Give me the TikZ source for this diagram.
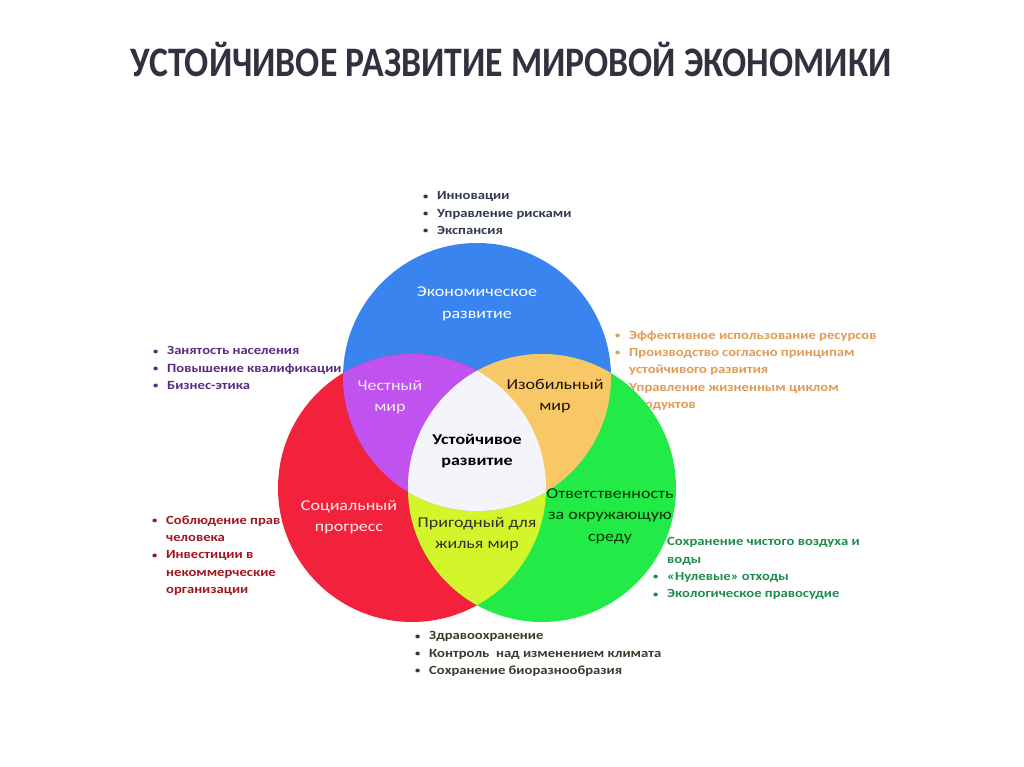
\documentclass[tikz,border=0pt]{standalone}
\usepackage{fontspec}
\setmainfont{Carlito}
\newfontfamily\zagfont[FakeStretch=0.85]{Carlito}
\newfontfamily\spisokfont[FakeStretch=1.17]{Carlito}
\newfontfamily\metkafont[FakeStretch=1.2]{Carlito}
\definecolor{sinij}{HTML}{3A84F0}
\definecolor{krasnyj}{HTML}{F2213C}
\definecolor{zelenyj}{HTML}{22EB48}
\definecolor{fiolet}{HTML}{C052F0}
\definecolor{oranzh}{HTML}{F9C866}
\definecolor{salat}{HTML}{D2F52C}
\definecolor{belyj}{HTML}{F4F5FA}
\definecolor{zagcvet}{HTML}{33303F}
\definecolor{tekst_eko}{HTML}{2F3A52}
\definecolor{tekst_soc}{HTML}{5B2C83}
\definecolor{tekst_res}{HTML}{E39A55}
\definecolor{tekst_prava}{HTML}{A31620}
\definecolor{tekst_vozduh}{HTML}{1E8C4C}
\definecolor{tekst_zdorov}{HTML}{3B3A2C}
\newcommand{\punkt}{\makebox[14pt][l]{\raisebox{0.8pt}{\fontsize{9}{9}\selectfont•}}}
\newcommand{\otstup}{\hspace*{14pt}}
\begin{document}
\begin{tikzpicture}[x=1pt, y=-1pt,
    spisok/.style={anchor=north west, inner sep=0pt, align=left,
      font=\spisokfont\bfseries\fontsize{12.5}{17.3}\selectfont},
    metka/.style={align=center, inner sep=0pt,
      font=\metkafont\fontsize{15}{21.5}\selectfont}]

    \useasboundingbox[fill=white] (0,0) rectangle (1024,767);

    % ZAGOLOVOK
    \node[text=zagcvet, font=\zagfont\bfseries\fontsize{42}{50}\selectfont] (zagolovok) at (511,59) {УСТОЙЧИВОЕ РАЗВИТИЕ МИРОВОЙ ЭКОНОМИКИ};

    % SPISKI (pod krugami)
    \node[spisok, text=tekst_eko] (spisok_eko) at (423,191.5) {\punkt Инновации\\ \punkt Управление рисками\\ \punkt Экспансия};
    \node[spisok, text=tekst_soc] (spisok_soc) at (153,346.5) {\punkt Занятость населения\\ \punkt Повышение квалификации\\ \punkt Бизнес-этика};
    \node[spisok, text=tekst_res] (spisok_res) at (615,330.5) {\punkt Эффективное использование ресурсов\\ \punkt Производство согласно принципам\\ \otstup устойчивого развития\\ \punkt Управление жизненным циклом\\ \otstup продуктов};
    \node[spisok, text=tekst_prava] (spisok_prava) at (152,515.5) {\punkt Соблюдение прав\\ \otstup человека\\ \punkt Инвестиции в\\ \otstup некоммерческие\\ \otstup организации};
    \node[spisok, text=tekst_vozduh] (spisok_vozduh) at (653,537.5) {\punkt Сохранение чистого воздуха и\\ \otstup воды\\ \punkt «Нулевые» отходы\\ \punkt Экологическое правосудие};
    \node[spisok, text=tekst_zdorov] (spisok_zdorov) at (415,631.5) {\punkt Здравоохранение\\ \punkt Контроль~ над изменением климата\\ \punkt Сохранение биоразнообразия};

    % KRUGI
    \coordinate (eko) at (477,377);
    \coordinate (soc) at (412,488);
    \coordinate (ekol) at (542,488);
    \fill[sinij] (eko) circle (134);
    \fill[krasnyj] (soc) circle (134);
    \fill[zelenyj] (ekol) circle (134);
    \begin{scope}
        \clip (soc) circle (134);
        \fill[salat] (ekol) circle (134);
    \end{scope}
    \begin{scope}
        \clip (eko) circle (134);
        \fill[fiolet] (soc) circle (134);
        \fill[oranzh] (ekol) circle (134);
        \clip (soc) circle (134);
        \fill[belyj] (ekol) circle (134);
    \end{scope}

    % NADPISI V KRUGAH
    \node[metka, text=white] (ekonom) at (477,304) {Экономическое\\развитие};
    \node[metka, text=white!92!violet] (chestnyj) at (390,397) {Честный\\мир};
    \node[metka, text=black!85!brown] (izobil) at (555,396) {Изобильный\\мир};
    \node[metka, text=black, font=\metkafont\bfseries\fontsize{15}{21.5}\selectfont] (ustoich) at (477,451) {Устойчивое\\развитие};
    \node[metka, text=white!92!red] (socprog) at (349,517) {Социальный\\прогресс};
    \node[metka, text=black!85!olive] (prigod) at (477,534) {Пригодный для\\жилья мир};
    \node[metka, text=black!80!green] (otvet) at (610,516) {Ответственность\\за окружающую\\среду};
\end{tikzpicture}
\end{document}
